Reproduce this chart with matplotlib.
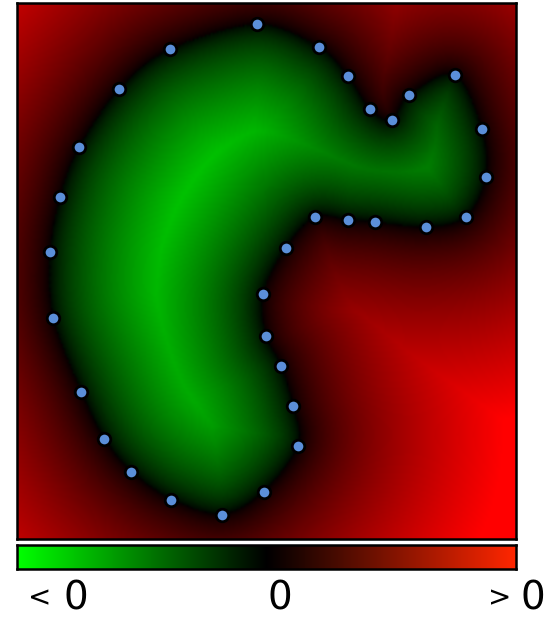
import numpy as np
import matplotlib.pyplot as plt
from matplotlib.colors import LinearSegmentedColormap, TwoSlopeNorm
from matplotlib.path import Path

# sample points on the zero level (frame pixel coords, y downward)
pts_x = [33, 43, 62, 102, 153, 240, 302, 331, 353, 375, 392, 438, 465, 469,
         449, 409, 358, 331, 298, 269, 246, 249, 264, 276, 281, 247, 205, 154,
         114, 87, 64, 36]
pts_y = [249, 194, 144, 86, 46, 21, 44, 73, 106, 117, 92, 72, 126, 174,
         214, 224, 219, 217, 214, 245, 291, 333, 363, 403, 443, 489, 512, 497,
         469, 436, 389, 315]

bar_labels = ['<', '0', '0', '>', '0']


def closed_curve(xs, ys, n=24):
    # catmull-rom through the points, closed
    P = np.column_stack([xs, ys]).astype(float)
    m = len(P)
    t = np.linspace(0, 1, n, endpoint=False)[:, None]
    out = []
    for i in range(m):
        p0, p1, p2, p3 = P[i - 1], P[i], P[(i + 1) % m], P[(i + 2) % m]
        seg = 0.5 * (2 * p1 + (-p0 + p2) * t + (2 * p0 - 5 * p1 + 4 * p2 - p3) * t ** 2
                     + (-p0 + 3 * p1 - 3 * p2 + p3) * t ** 3)
        out.append(seg)
    return np.vstack(out)


def construct():
    W, H = 499, 536
    curve = closed_curve(pts_x, pts_y)

    gx = np.arange(0, W + 1, 2) + 0.5
    gy = np.arange(0, H + 1, 2) + 0.5
    X, Y = np.meshgrid(gx, gy)
    grid = np.column_stack([X.ravel(), Y.ravel()])
    d = np.empty(len(grid))
    for c in range(0, len(grid), 4000):
        diff = grid[c:c + 4000, None, :] - curve[None, :, :]
        d[c:c + 4000] = np.sqrt((diff ** 2).sum(-1)).min(1)
    inside = Path(curve).contains_points(grid)
    # steeper near the zero level, flatter further out
    field = np.where(inside, -(d / 177) ** 0.65, (d / 205) ** 0.65).reshape(X.shape)

    cmap = LinearSegmentedColormap.from_list('gkr', [(0, (0, 1, 0)), (0.5, (0, 0, 0)), (1, (1, 0, 0))])
    cmap_bar = LinearSegmentedColormap.from_list('gkr2', [(0, (0, 1, 0)), (0.5, (0, 0, 0)), (1, (1, 0.15, 0))])

    fig = plt.figure(figsize=(5.51, 6.18), dpi=100)
    ax1 = fig.add_axes([17 / 551, 79 / 618, 499 / 551, 536 / 618])
    ax1.imshow(field, extent=[0, W, H, 0], cmap=cmap,
               norm=TwoSlopeNorm(vmin=-1, vcenter=0, vmax=1),
               interpolation='bilinear', aspect='auto')
    ax1.plot(pts_x, pts_y, 'o', ms=9, mfc='#5b8fd9', mec='black', mew=2)
    ax1.set_xlim(0, W)
    ax1.set_ylim(H, 0)
    ax1.set_xticks([])
    ax1.set_yticks([])
    for s in ax1.spines.values():
        s.set_linewidth(1.8)

    ax2 = fig.add_axes([17 / 551, 49 / 618, 499 / 551, 24 / 618])
    grad = np.linspace(-1, 1, 256)[None, :]
    ax2.imshow(grad, cmap=cmap_bar, aspect='auto', extent=[-1, 1, 0, 1])
    ax2.set_xticks([])
    ax2.set_yticks([])
    for s in ax2.spines.values():
        s.set_linewidth(1.8)

    # labels under the bar
    xs = [40, 76, 280, 500, 533]
    ys = [12, 8, 8, 12, 8]
    sizes = [20, 28, 28, 20, 28]
    for lab, x, y, fs in zip(bar_labels, xs, ys, sizes):
        fig.text(x / 551, y / 618, lab, fontsize=fs, ha='center', va='baseline')

    plt.savefig('out.png', dpi=100)


construct()
